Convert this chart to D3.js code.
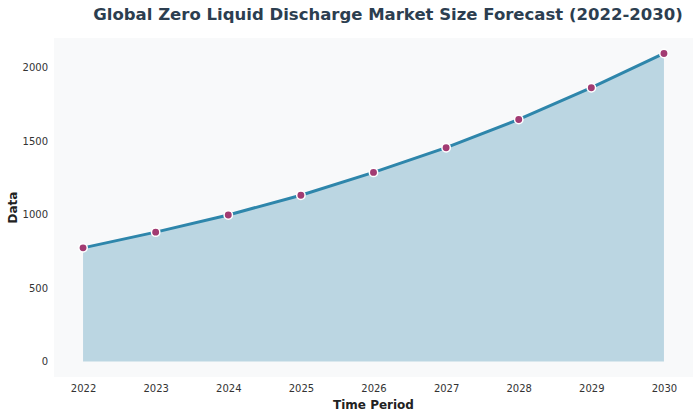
<!DOCTYPE html>
<html>
<head>
<meta charset="utf-8">
<script src="https://cdn.jsdelivr.net/npm/d3@7"></script>
<style>
  body { margin: 0; background: #fff; }
  text { font-family: "DejaVu Sans", sans-serif; }
</style>
</head>
<body>
<div class="chart"></div>
<script>
var years = [2022, 2023, 2024, 2025, 2026, 2027, 2028, 2029, 2030];
var marketSize = [773, 880, 997, 1131, 1286, 1454, 1646, 1862, 2095];
var yTicks = [0, 500, 1000, 1500, 2000];

var svgWidth = 700;
var svgHeight = 418;

var margin = {
  top: 38,
  right: 7,
  bottom: 41,
  left: 54
};

var width = svgWidth - margin.left - margin.right;
var height = svgHeight - margin.top - margin.bottom;

var svg = d3.select(".chart")
  .append("svg")
  .attr("width", svgWidth)
  .attr("height", svgHeight);

var chartGroup = svg.append("g")
  .attr("transform", `translate(${margin.left}, ${margin.top})`);

// plot background
chartGroup.append("rect")
  .attr("width", width)
  .attr("height", height)
  .attr("fill", "#f8f9fa");

// scales with matplotlib-like 5% padding
var xScale = d3.scaleLinear()
  .domain([2021.6, 2030.4])
  .range([0, width]);

var yScale = d3.scaleLinear()
  .domain([-105, 2200])
  .range([height, 0]);

var data = years.map((y, i) => ({ year: y, value: marketSize[i] }));

// area fill
var area = d3.area()
  .x(d => xScale(d.year))
  .y0(yScale(0))
  .y1(d => yScale(d.value));

chartGroup.append("path")
  .datum(data)
  .attr("d", area)
  .attr("fill", "#2e86ab")
  .attr("fill-opacity", 0.3);

// line
var line = d3.line()
  .x(d => xScale(d.year))
  .y(d => yScale(d.value));

chartGroup.append("path")
  .datum(data)
  .attr("d", line)
  .attr("fill", "none")
  .attr("stroke", "#2e86ab")
  .attr("stroke-width", 3);

// markers
chartGroup.selectAll("circle")
  .data(data)
  .enter()
  .append("circle")
  .attr("cx", d => xScale(d.year))
  .attr("cy", d => yScale(d.value))
  .attr("r", 4.2)
  .attr("fill", "#a23b72")
  .attr("stroke", "#fff")
  .attr("stroke-width", 1.5);

// axes (no tick lines, no domain)
var bottomAxis = d3.axisBottom(xScale)
  .tickValues(years)
  .tickFormat(d3.format("d"))
  .tickSize(0)
  .tickPadding(8);

var leftAxis = d3.axisLeft(yScale)
  .tickValues(yTicks)
  .tickFormat(d3.format("d"))
  .tickSize(0)
  .tickPadding(6);

var xAxisG = chartGroup.append("g")
  .attr("transform", `translate(0, ${height})`)
  .call(bottomAxis);

var yAxisG = chartGroup.append("g")
  .call(leftAxis);

[xAxisG, yAxisG].forEach(g => {
  g.select(".domain").remove();
  g.selectAll("text")
    .attr("font-family", "DejaVu Sans, sans-serif")
    .attr("font-size", 10)
    .attr("fill", "#333");
});

// title
svg.append("text")
  .attr("x", 388)
  .attr("y", 20)
  .attr("text-anchor", "middle")
  .attr("font-size", 16.5)
  .attr("font-weight", "bold")
  .attr("fill", "#2c3e50")
  .text("Global Zero Liquid Discharge Market Size Forecast (2022-2030)");

// axis labels
svg.append("text")
  .attr("x", margin.left + width / 2)
  .attr("y", 409)
  .attr("text-anchor", "middle")
  .attr("font-size", 12)
  .attr("font-weight", "bold")
  .attr("fill", "#222")
  .text("Time Period");

svg.append("text")
  .attr("transform", `translate(17, ${margin.top + height / 2}) rotate(-90)`)
  .attr("text-anchor", "middle")
  .attr("font-size", 12)
  .attr("font-weight", "bold")
  .attr("fill", "#222")
  .text("Data");
</script>
</body>
</html>
